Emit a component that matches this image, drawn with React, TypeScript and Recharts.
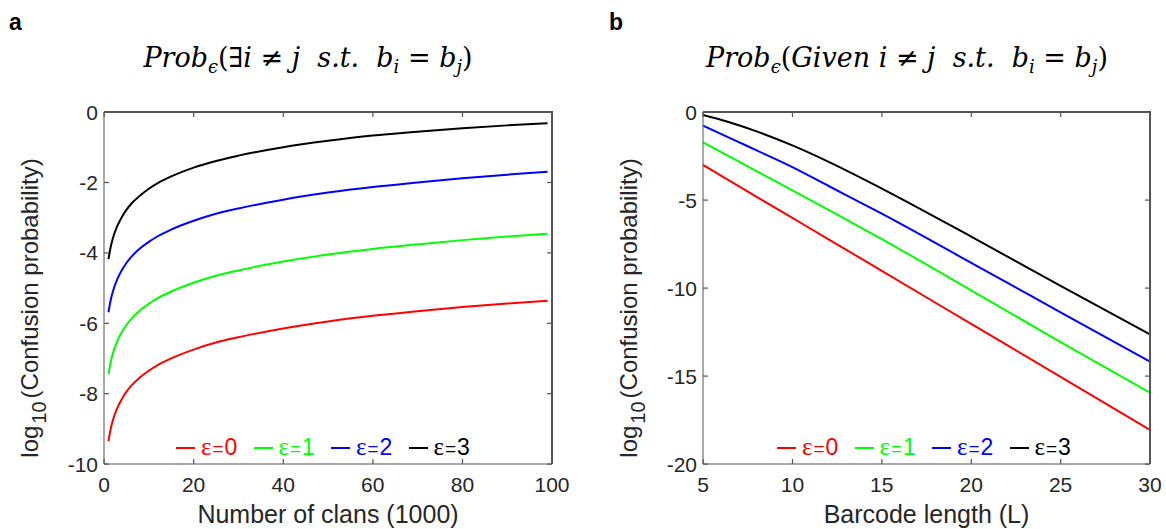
import { Legend, Line, LineChart, XAxis, YAxis, Label, CartesianGrid } from "recharts";

// panel a: number of clans (thousands) vs log10 confusion probability
const clans = [1, 1.5, 2, 3, 4, 5, 6, 8, 10, 12, 15, 20, 25, 30, 40, 50, 60, 70, 80, 90, 99];
const clanEps0 = [-9.35, -9.0, -8.75, -8.4, -8.15, -7.95, -7.79, -7.54, -7.35, -7.19, -7.0, -6.75, -6.55, -6.4, -6.15, -5.95, -5.79, -5.66, -5.54, -5.44, -5.36];
const clanEps1 = [-7.45, -7.1, -6.85, -6.5, -6.25, -6.05, -5.89, -5.64, -5.45, -5.29, -5.1, -4.85, -4.65, -4.5, -4.25, -4.05, -3.89, -3.76, -3.64, -3.54, -3.46];
const clanEps2 = [-5.69, -5.34, -5.09, -4.74, -4.49, -4.29, -4.13, -3.88, -3.69, -3.53, -3.34, -3.09, -2.89, -2.74, -2.49, -2.29, -2.13, -2.0, -1.88, -1.78, -1.7];
const clanEps3 = [-4.18, -3.83, -3.58, -3.23, -2.98, -2.78, -2.62, -2.38, -2.18, -2.02, -1.83, -1.58, -1.39, -1.24, -1.0, -0.82, -0.67, -0.56, -0.46, -0.38, -0.32];

// panel b: barcode length vs log10 confusion probability
const lengths = [5, 6, 7, 8, 10, 12, 15, 20, 25, 30];
const lenEps0 = [-3.01, -3.61, -4.21, -4.82, -6.02, -7.22, -9.03, -12.04, -15.05, -18.06];
const lenEps1 = [-1.72, -2.26, -2.81, -3.36, -4.45, -5.55, -7.22, -10.13, -13.07, -15.95];
const lenEps2 = [-0.78, -1.24, -1.71, -2.18, -3.13, -4.19, -5.78, -8.57, -11.38, -14.19];
const lenEps3 = [-0.17, -0.44, -0.75, -1.1, -1.9, -2.82, -4.35, -7.08, -9.88, -12.63];

const clanTicks = [0, 20, 40, 60, 80, 100];
const clanYTicks = [-10, -8, -6, -4, -2, 0];
const lengthTicks = [5, 10, 15, 20, 25, 30];
const lengthYTicks = [-20, -15, -10, -5, 0];

const series = [
  { key: "e0", eps: "0", color: "#ff0000" },
  { key: "e1", eps: "1", color: "#00ff00" },
  { key: "e2", eps: "2", color: "#0000ff" },
  { key: "e3", eps: "3", color: "#000000" },
];

const clanData = clans.map((x, i) => ({ x, e0: clanEps0[i], e1: clanEps1[i], e2: clanEps2[i], e3: clanEps3[i] }));
const lengthData = lengths.map((x, i) => ({ x, e0: lenEps0[i], e1: lenEps1[i], e2: lenEps2[i], e3: lenEps3[i] }));

const SANS = "'Liberation Sans', Arial, Helvetica, sans-serif";
const SERIF = "'Liberation Serif', 'Times New Roman', serif";
const MATH = "'DejaVu Serif', serif";
const TXT = "#262626";
const AXIS = "#555555";

const CHART_H = 529;
const TOP = 112;
const X_AXIS_H = 65;
const PLOT_H = CHART_H - TOP - X_AXIS_H;

// bottom ticks: inward marks at the bottom and top of the box
function BottomTick(props: any) {
  const x = Number(props.x);
  const y = Number(props.y);
  const top = y - PLOT_H;
  return (
    <g>
      <rect x={x - 0.5} y={y - 5} width={1.2} height={5} fill={AXIS} />
      <rect x={x - 0.5} y={top} width={1.2} height={5} fill={AXIS} />
      <text x={x} y={y + 28} textAnchor="middle" fontSize={21} fill={TXT} fontFamily={SANS}>
        {props.payload.value}
      </text>
    </g>
  );
}

// left ticks: inward marks at the left and right of the box
function LeftTick(props: any) {
  const x = Number(props.x);
  const y = Number(props.y);
  const right = x + Number(props.plotW);
  return (
    <g>
      <rect x={x} y={y - 0.5} width={5} height={1.2} fill={AXIS} />
      <rect x={right - 5} y={y - 0.5} width={5} height={1.2} fill={AXIS} />
      <text x={x - 6} y={y + 7.5} textAnchor="end" fontSize={21} fill={TXT} fontFamily={SANS}>
        {props.payload.value}
      </text>
    </g>
  );
}

function YLabel({ cx, cy }: { cx: number; cy: number }) {
  return (
    <text
      x={0}
      y={0}
      transform={`translate(${cx}, ${cy}) rotate(-90)`}
      textAnchor="middle"
      fontSize={24}
      fill={TXT}
      fontFamily={SANS}
    >
      log
      <tspan dx={2} dy={8} fontSize={20}>
        10
      </tspan>
      <tspan dx={3} dy={-8}>
        (Confusion probability)
      </tspan>
    </text>
  );
}

function XLabel({ viewBox, text }: any) {
  const x0 = Number(viewBox.x);
  const x1 = x0 + Number(viewBox.width);
  const yb = Number(viewBox.y);
  return (
    <text x={(x0 + x1) / 2} y={yb + 59} textAnchor="middle" fontSize={25} fill={TXT} fontFamily={SANS}>
      {text}
    </text>
  );
}

function EpsLegend() {
  return (
    <div style={{ display: "flex", alignItems: "center", fontFamily: SANS, whiteSpace: "nowrap" }}>
      {series.map((s) => (
        <div key={s.key} style={{ display: "flex", alignItems: "center", width: 77.5 }}>
          <span style={{ display: "inline-block", width: 19, borderTop: `2px solid ${s.color}`, marginRight: 6 }} />
          <span style={{ color: s.color, fontSize: 23, lineHeight: "24px" }}>
            <span style={{ fontFamily: SERIF, fontSize: 25 }}>ε</span>
            <span style={{ fontSize: 19, margin: "0 1px" }}>=</span>
            {s.eps}
          </span>
        </div>
      ))}
    </div>
  );
}

function Panel({ data, width, yAxisWidth, right, xDomain, xTicks, yDomain, yTicks, xLabel, labelX, legendLeft }: any) {
  const plotW = width - yAxisWidth - right;
  return (
    <div style={{ position: "relative", width, height: CHART_H }}>
      <LineChart width={width} height={CHART_H} data={data} margin={{ top: TOP, right, bottom: 0, left: 0 }}>
        {/* frame: grid lines only at the plot edges */}
        <CartesianGrid
          stroke={AXIS}
          strokeWidth={1.2}
          fill="none"
          horizontalCoordinatesGenerator={({ offset }: any) => [offset.top]}
          verticalCoordinatesGenerator={({ offset }: any) => [offset.left + offset.width]}
        />
        <XAxis
          dataKey="x"
          type="number"
          domain={xDomain}
          ticks={xTicks}
          height={X_AXIS_H}
          tickSize={0}
          tickMargin={0}
          tickLine={false}
          axisLine={{ stroke: AXIS }}
          tick={<BottomTick />}
          interval={0}
          allowDataOverflow
        >
          <Label content={(p: any) => <XLabel viewBox={p.viewBox} text={xLabel} />} />
        </XAxis>
        <YAxis
          type="number"
          domain={yDomain}
          ticks={yTicks}
          width={yAxisWidth}
          tickSize={0}
          tickMargin={0}
          tickLine={false}
          axisLine={{ stroke: AXIS }}
          tick={<LeftTick plotW={plotW} />}
          interval={0}
          allowDataOverflow
        >
          <Label content={() => <YLabel cx={labelX} cy={308} />} />
        </YAxis>
        {series.map((s) => (
          <Line
            key={s.key}
            type="monotone"
            dataKey={s.key}
            stroke={s.color}
            strokeWidth={2}
            dot={false}
            isAnimationActive={false}
          />
        ))}
        <Legend
          layout="horizontal"
          verticalAlign="middle"
          align="center"
          wrapperStyle={{ left: legendLeft, top: 435, width: "auto" }}
          content={() => <EpsLegend />}
        />
      </LineChart>
      {/* top and right edges of the box round the plot area */}
      <div
        style={{
          position: "absolute",
          left: yAxisWidth,
          top: TOP - 1,
          width: plotW + 1,
          height: PLOT_H + 1,
          boxSizing: "border-box",
          borderTop: `2px solid ${AXIS}`,
          borderRight: `2px solid ${AXIS}`,
          pointerEvents: "none",
          zIndex: 10,
        }}
      />
    </div>
  );
}

function MathTitle({ given }: { given: boolean }) {
  const up = { fontStyle: "normal" as const };
  const sub = { fontSize: 18, verticalAlign: "-6px" };
  return (
    <span style={{ fontFamily: MATH, fontStyle: "italic", fontSize: 27, color: "#000", whiteSpace: "nowrap" }}>
      Prob<sub style={sub}>ϵ</sub>
      <span style={up}>(</span>
      {given ? <>Given&nbsp;</> : <span style={{ ...up, fontWeight: 300 }}>∃</span>}i <span style={up}>≠</span> j&nbsp;&nbsp;s.t.&nbsp;&nbsp;b
      <sub style={sub}>i</sub> <span style={up}>=</span> b
      <sub style={sub}>j</sub>
      <span style={up}>)</span>
    </span>
  );
}

export default function App() {
  return (
    <div style={{ position: "absolute", left: 0, top: 0, width: 1166, height: 529, background: "#fff" }}>
      <div style={{ position: "absolute", left: 9, top: 9, fontFamily: SANS, fontWeight: 700, fontSize: 23, color: "#000" }}>
        a
      </div>
      <div style={{ position: "absolute", left: 609, top: 9, fontFamily: SANS, fontWeight: 700, fontSize: 23, color: "#000" }}>
        b
      </div>
      <div style={{ position: "absolute", left: 308, top: 44, transform: "translateX(-50%)", lineHeight: 1 }}>
        <MathTitle given={false} />
      </div>
      <div style={{ position: "absolute", left: 907, top: 44, transform: "translateX(-50%)", lineHeight: 1 }}>
        <MathTitle given={true} />
      </div>
      <div style={{ position: "absolute", left: 0, top: 0 }}>
        <Panel
          data={clanData}
          width={580}
          yAxisWidth={104}
          right={28}
          xDomain={[0, 100]}
          xTicks={clanTicks}
          yDomain={[-10, 0]}
          yTicks={clanYTicks}
          xLabel="Number of clans (1000)"
          labelX={38}
          legendLeft={176}
        />
      </div>
      <div style={{ position: "absolute", left: 580, top: 0 }}>
        <Panel
          data={lengthData}
          width={586}
          yAxisWidth={123}
          right={16}
          xDomain={[5, 30]}
          xTicks={lengthTicks}
          yDomain={[-20, 0]}
          yTicks={lengthYTicks}
          xLabel="Barcode length (L)"
          labelX={57}
          legendLeft={197}
        />
      </div>
    </div>
  );
}
